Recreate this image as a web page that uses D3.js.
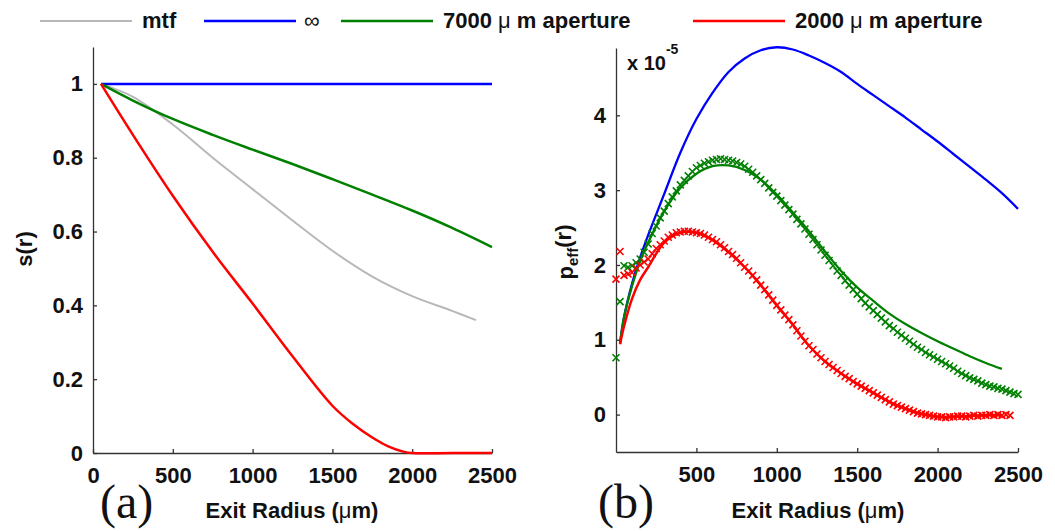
<!DOCTYPE html>
<html>
<head>
<meta charset="utf-8">
<script src="https://cdn.jsdelivr.net/npm/d3@7"></script>
<style>
body { margin: 0; background: #fff; }
text { fill: #111; }
</style>
</head>
<body>
<svg id="chart" width="1055" height="531" font-family="'Liberation Sans', Arial, sans-serif" font-weight="bold"></svg>
<script>
// ---- data: panel (a), s(r) ----
var rInf = [50, 2500];
var sInf = [1, 1];
var r7000 = [50, 250, 500, 750, 1000, 1250, 1500, 1750, 2000, 2250, 2500];
var s7000 = [1.0, 0.955, 0.905, 0.862, 0.822, 0.783, 0.742, 0.700, 0.657, 0.610, 0.558];
var rMtf = [50, 250, 500, 750, 1000, 1250, 1500, 1750, 2000, 2250, 2400];
var sMtf = [1.0, 0.965, 0.89, 0.80, 0.715, 0.630, 0.548, 0.478, 0.425, 0.385, 0.36];
var r2000 = [50, 250, 500, 750, 1000, 1250, 1500, 1625, 1750, 1850, 1950, 2000, 2250, 2500];
var s2000 = [1.0, 0.862, 0.697, 0.545, 0.405, 0.262, 0.128, 0.08, 0.042, 0.018, 0.003, 0, 0, 0];

// ---- data: panel (b), p_eff(r) in units of 1e-5 ----
var rP = [25, 50, 100, 150, 200, 300, 400, 500, 600, 700, 800, 900, 1000, 1100, 1200,
          1300, 1400, 1500, 1600, 1700, 1800, 1900, 2000, 2100, 2200, 2300, 2400, 2500];
var pInf = [0.95, 1.3, 1.75, 2.1, 2.4, 2.95, 3.5, 3.95, 4.3, 4.58, 4.76, 4.87, 4.91, 4.88, 4.8,
            4.7, 4.58, 4.42, 4.27, 4.12, 3.97, 3.81, 3.65, 3.48, 3.31, 3.14, 2.96, 2.75];
var p7000 = [0.95, 1.3, 1.72, 2.05, 2.3, 2.72, 3.03, 3.22, 3.32, 3.33, 3.27, 3.14, 2.94, 2.70, 2.45,
             2.18, 1.92, 1.70, 1.52, 1.35, 1.21, 1.09, 0.98, 0.88, 0.78, 0.69, 0.61, null];
var p2000 = [0.94, 1.18, 1.55, 1.8, 1.97, 2.3, 2.43, 2.43, 2.33, 2.17, 1.97, 1.73, 1.46, 1.2, 0.92,
             0.71, 0.55, 0.41, 0.29, 0.17, 0.08, 0.01, -0.03, -0.03, -0.02, -0.01, -0.01, null];

// simulated points (x markers)
var markR = [0, 25, 50, 75, 100, 125, 150, 175, 200, 225, 250, 275, 300, 325, 350, 375, 400, 425, 450, 475,
             500, 525, 550, 575, 600, 625, 650, 675, 700, 725, 750, 775, 800, 825, 850, 875, 900, 925, 950, 975,
             1000, 1025, 1050, 1075, 1100, 1125, 1150, 1175, 1200, 1225, 1250, 1275, 1300, 1325, 1350, 1375,
             1400, 1425, 1450, 1475, 1500, 1525, 1550, 1575, 1600, 1625, 1650, 1675, 1700, 1725, 1750, 1775,
             1800, 1825, 1850, 1875, 1900, 1925, 1950, 1975, 2000, 2025, 2050, 2075, 2100, 2125, 2150, 2175,
             2200, 2225, 2250, 2275, 2300, 2325, 2350, 2375, 2400, 2425, 2450, 2475, 2500];
var mark7000 = [0.76, 1.51, 1.99, 1.97, 1.99, 2.03, 2.08, 2.17, 2.28, 2.42, 2.52, 2.63, 2.72, 2.82, 2.91, 2.99, 3.07, 3.13, 3.19, 3.25,
                3.30, 3.33, 3.36, 3.38, 3.40, 3.41, 3.42, 3.41, 3.40, 3.39, 3.37, 3.35, 3.32, 3.28, 3.24, 3.19, 3.14, 3.09, 3.03, 2.97,
                2.92, 2.86, 2.80, 2.74, 2.68, 2.61, 2.55, 2.48, 2.41, 2.34, 2.27, 2.20, 2.13, 2.06, 1.99, 1.92,
                1.86, 1.79, 1.73, 1.67, 1.61, 1.55, 1.49, 1.44, 1.39, 1.34, 1.29, 1.24, 1.19, 1.15, 1.10, 1.06,
                1.02, 0.98, 0.94, 0.90, 0.87, 0.83, 0.80, 0.77, 0.74, 0.71, 0.68, 0.65, 0.62, 0.58, 0.55, 0.52,
                0.49, 0.47, 0.45, 0.42, 0.40, 0.38, 0.37, 0.35, 0.34, 0.32, 0.30, 0.28, 0.27];
var mark2000 = [1.81, 2.18, 1.86, 1.88, 1.90, 1.96, 2.00, 2.04, 2.08, 2.15, 2.22, 2.27, 2.32, 2.37, 2.40, 2.43, 2.44, 2.45, 2.45, 2.44,
                2.43, 2.42, 2.40, 2.37, 2.34, 2.31, 2.27, 2.23, 2.18, 2.14, 2.09, 2.03, 1.97, 1.92, 1.86, 1.80, 1.73, 1.67, 1.60, 1.53,
                1.46, 1.40, 1.33, 1.27, 1.20, 1.12, 1.05, 0.98, 0.92, 0.87, 0.81, 0.76, 0.71, 0.67, 0.63, 0.59,
                0.55, 0.51, 0.48, 0.44, 0.41, 0.38, 0.35, 0.32, 0.29, 0.26, 0.23, 0.20, 0.17, 0.14, 0.12, 0.10,
                0.08, 0.06, 0.04, 0.02, 0.01, 0.00, -0.01, -0.02, -0.03, -0.03, -0.04, -0.03, -0.03, -0.02, -0.02, -0.03,
                -0.02, -0.01, -0.02, -0.01, -0.01, 0.00, -0.01, 0.00, -0.01, 0.00, -0.01, null, null];

// ---- ticks and legend ----
var xTicksA = [0, 500, 1000, 1500, 2000, 2500];
var yTicksA = [0, 0.2, 0.4, 0.6, 0.8, 1];
var xTicksB = [500, 1000, 1500, 2000, 2500];
var yTicksB = [0, 1, 2, 3, 4];
var legendLabels = ["mtf", "\u221e", "7000 \u03bc m aperture", "2000 \u03bc m aperture"];
var legendColors = ["#b8b8b8", "#0000ff", "#008000", "#ff0000"];

var COL_INF = "#0000ff", COL_7000 = "#008000", COL_2000 = "#ff0000", COL_MTF = "#b8b8b8";

var svg = d3.select("#chart");

// scales
var xA = d3.scaleLinear().domain([0, 2500]).range([93, 492]);
var yA = d3.scaleLinear().domain([0, 1.1]).range([453, 47]);
var xB = d3.scaleLinear().domain([0, 2500]).range([616, 1018]);
var yB = d3.scaleLinear().domain([-0.5, 4.9]).range([452, 48]);

function zip(xs, ys) {
    return xs.map(function(x, i) { return [x, ys[i]]; });
}

// split a label on the mu so the mu can be drawn in regular weight
function muText(sel, str) {
    var parts = str.split("\u03bc");
    sel.append("tspan").text(parts[0]);
    for (var i = 1; i < parts.length; i++) {
        sel.append("tspan").attr("font-weight", "normal").text("\u03bc");
        sel.append("tspan").text(parts[i]);
    }
}

function drawAxes(x, y, xTicks, yTicks, yFmt) {
    var bottom = y.range()[0];
    var gx = svg.append("g")
        .attr("transform", "translate(0," + bottom + ")")
        .call(d3.axisBottom(x).tickValues(xTicks).tickFormat(d3.format("d"))
            .tickSizeInner(-4).tickSizeOuter(0).tickPadding(14));
    var gy = svg.append("g")
        .attr("transform", "translate(" + x.range()[0] + ",0)")
        .call(d3.axisLeft(y).tickValues(yTicks).tickFormat(yFmt)
            .tickSizeInner(-4).tickSizeOuter(0).tickPadding(10));
    [gx, gy].forEach(function(g) {
        g.attr("font-size", 22).attr("font-family", null);
        g.select(".domain").attr("stroke", "#333").attr("stroke-width", 1.3);
        g.selectAll(".tick line").attr("stroke", "#333").attr("stroke-width", 1.3);
        g.selectAll(".tick text").attr("fill", "#111");
    });
}

function drawLine(x, y, xs, ys, color, width) {
    var line = d3.line()
        .defined(function(d) { return d[1] !== null; })
        .x(function(d) { return x(d[0]); })
        .y(function(d) { return y(d[1]); })
        .curve(d3.curveCatmullRom.alpha(0.5));
    svg.append("path")
        .datum(zip(xs, ys))
        .attr("fill", "none")
        .attr("stroke", color)
        .attr("stroke-width", width)
        .attr("stroke-linejoin", "round")
        .attr("d", line);
}

function drawMarks(x, y, xs, ys, color) {
    var h = 3.5;
    svg.append("g").selectAll("path")
        .data(zip(xs, ys).filter(function(d) { return d[1] !== null; }))
        .enter().append("path")
        .attr("transform", function(d) { return "translate(" + x(d[0]) + "," + y(d[1]) + ")"; })
        .attr("d", "M" + (-h) + "," + (-h) + "L" + h + "," + h + "M" + (-h) + "," + h + "L" + h + "," + (-h))
        .attr("stroke", color)
        .attr("stroke-width", 1.6)
        .attr("fill", "none");
}

// ---- panel (a) ----
drawAxes(xA, yA, xTicksA, yTicksA, function(d) { return d3.format("~g")(d); });
drawLine(xA, yA, rMtf, sMtf, COL_MTF, 2);
drawLine(xA, yA, rInf, sInf, COL_INF, 2.5);
drawLine(xA, yA, r7000, s7000, COL_7000, 2.5);
drawLine(xA, yA, r2000, s2000, COL_2000, 2.5);

svg.append("text")
    .attr("transform", "translate(32,249) rotate(-90)")
    .attr("text-anchor", "middle")
    .attr("font-size", 22)
    .text("s(r)");

var xlabA = svg.append("text")
    .attr("x", 292).attr("y", 518)
    .attr("text-anchor", "middle")
    .attr("font-size", 22);
muText(xlabA, "Exit Radius (\u03bcm)");

svg.append("text")
    .attr("x", 100).attr("y", 518)
    .attr("font-family", "'Liberation Serif', 'DejaVu Serif', serif")
    .attr("font-weight", "normal")
    .attr("font-size", 48)
    .text("(a)");

// ---- panel (b) ----
drawAxes(xB, yB, xTicksB, yTicksB, function(d) { return d3.format("d")(d); });
drawLine(xB, yB, rP, pInf, COL_INF, 2.3);
drawLine(xB, yB, rP, p7000, COL_7000, 2.3);
drawMarks(xB, yB, markR, mark7000, COL_7000);
drawLine(xB, yB, rP, p2000, COL_2000, 2.5);
drawMarks(xB, yB, markR, mark2000, COL_2000);

var ylabB = svg.append("text")
    .attr("transform", "translate(573,252) rotate(-90)")
    .attr("text-anchor", "middle")
    .attr("font-size", 22);
ylabB.append("tspan").text("p");
ylabB.append("tspan").attr("font-size", 15).attr("dy", "0.3em").text("eff");
ylabB.append("tspan").attr("dy", "-0.3em").text("(r)");

var expo = svg.append("text")
    .attr("x", 627).attr("y", 70)
    .attr("font-size", 20);
expo.append("tspan").text("x 10");
expo.append("tspan").attr("font-size", 14).attr("dy", "-1.15em").text("-5");

var xlabB = svg.append("text")
    .attr("x", 818).attr("y", 518)
    .attr("text-anchor", "middle")
    .attr("font-size", 22);
muText(xlabB, "Exit Radius (\u03bcm)");

svg.append("text")
    .attr("x", 598).attr("y", 518)
    .attr("font-family", "'Liberation Serif', 'DejaVu Serif', serif")
    .attr("font-weight", "normal")
    .attr("font-size", 48)
    .text("(b)");

// ---- legend across the top ----
var legendX = [40, 204, 341, 693];
var legend = svg.append("g").attr("transform", "translate(0,21)");
legendLabels.forEach(function(lab, i) {
    var g = legend.append("g").attr("transform", "translate(" + legendX[i] + ",0)");
    g.append("line")
        .attr("x1", 0).attr("x2", 92)
        .attr("stroke", legendColors[i])
        .attr("stroke-width", i === 0 ? 2 : 2.5);
    var t = g.append("text")
        .attr("x", 102).attr("y", 7)
        .attr("font-size", 22);
    if (i === 1) {
        t.attr("font-weight", "normal").attr("x", 100).text(lab);
    } else {
        muText(t, lab);
    }
});
</script>
</body>
</html>
